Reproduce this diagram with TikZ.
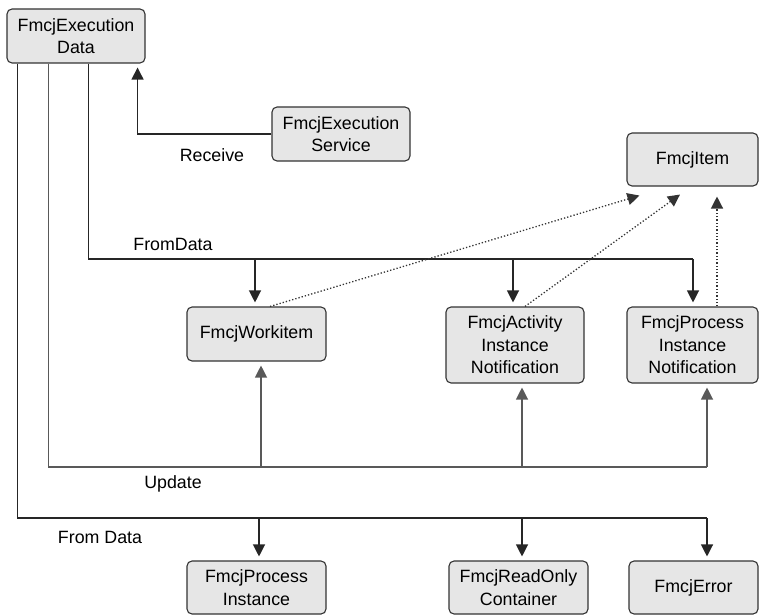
\documentclass[tikz,border=0pt]{standalone}
\usepackage{fontspec}
\setmainfont{Liberation Sans}
\usetikzlibrary{arrows.meta,calc}
\definecolor{boxfill}{HTML}{E6E6E6}
\definecolor{boxline}{HTML}{333333}
\begin{document}
\begin{tikzpicture}[x=1pt,y=-1pt,
  box/.style={draw=boxline,line width=1.1pt,fill=boxfill,rounded corners=5pt,
    inner sep=0pt,align=center,font=\fontsize{17.8}{22.5}\selectfont},
  lbl/.style={inner sep=0pt,font=\fontsize{17.8}{22.5}\selectfont},
  wire/.style={line width=1.2pt,draw=black!85},
  gwire/.style={line width=1.2pt,draw=black!65},
  arr/.style={-{Triangle[length=12pt,width=12pt]},shorten >=4pt},
  dots/.style={line width=1.3pt,dotted,draw=black!80}]
\useasboundingbox (0,0) rectangle (760,615);
% boxes
\node[box,minimum width=138pt,minimum height=54pt] (ED) at (76,36) {FmcjExecution\\Data};
\node[box,minimum width=138pt,minimum height=54pt] (ES) at (341,134) {FmcjExecution\\Service};
\node[box,minimum width=131pt,minimum height=53pt] (IT) at (692.5,159.5) {FmcjItem};
\node[box,minimum width=139pt,minimum height=54pt] (WI) at (256.5,334) {FmcjWorkitem};
\node[box,minimum width=138pt,minimum height=76pt] (AIN) at (515,345) {FmcjActivity\\Instance\\Notification};
\node[box,minimum width=131pt,minimum height=76pt] (PIN) at (692.5,345) {FmcjProcess\\Instance\\Notification};
\node[box,minimum width=139pt,minimum height=53pt] (PI) at (256.5,587.5) {FmcjProcess\\Instance};
\node[box,minimum width=139pt,minimum height=53pt] (ROC) at (518.5,587.5) {FmcjReadOnly\\Container};
\node[box,minimum width=129pt,minimum height=53pt] (ERR) at (693.5,587.5) {FmcjError};
% bus levels
\coordinate (busA) at (0,259);
\coordinate (busB) at (0,467);
\coordinate (busC) at (0,518);
% connector end points on the boxes
\coordinate (edA) at ($(ED.south west)+(82,0)$);
\coordinate (edB) at ($(ED.south west)+(42,0)$);
\coordinate (edC) at ($(ED.south west)+(11,0)$);
\coordinate (edR) at ($(ED.south east)+(-8,0)$);
\coordinate (wiT) at ($(WI.north)+(-1.5,0)$);
\coordinate (ainT) at ($(AIN.north)+(-2,0)$);
\coordinate (pinT) at ($(PIN.north)+(0.5,0)$);
\coordinate (wiB) at ($(WI.south)+(4.5,0)$);
\coordinate (ainB) at ($(AIN.south)+(7,0)$);
\coordinate (pinB) at ($(PIN.south)+(14.5,0)$);
\coordinate (piT) at ($(PI.north)+(2.5,0)$);
\coordinate (rocT) at ($(ROC.north)+(3.5,0)$);
\coordinate (errT) at ($(ERR.north)+(13.5,0)$);
% labels
\node[lbl] (lrec) at (212,155) {Receive};
\node[lbl] (lfd) at (173,244) {FromData};
\node[lbl] (lup) at (173,484) {Update};
\node[lbl] (lfd2) at (100,537) {From Data};
% Receive
\draw[wire,arr] (ES.west) -| (edR);
% FromData bus
\draw[wire] (edA) |- (pinT |- busA);
\draw[wire,arr] (wiT |- busA) -- (wiT);
\draw[wire,arr] (ainT |- busA) -- (ainT);
\draw[wire,arr] (pinT |- busA) -- (pinT);
% Update bus
\draw[gwire] (edB) |- (pinB |- busB);
\draw[gwire,arr] (wiB |- busB) -- (wiB);
\draw[gwire,arr] (ainB |- busB) -- (ainB);
\draw[gwire,arr] (pinB |- busB) -- (pinB);
% From Data bus
\draw[wire] (edC) |- (errT |- busC);
\draw[wire,arr] (piT |- busC) -- (piT);
\draw[wire,arr] (rocT |- busC) -- (rocT);
\draw[wire,arr] (errT |- busC) -- (errT);
% dotted to FmcjItem
\draw[dots,-{Triangle[length=12pt,width=12pt]}] ($(WI.north)+(13.5,0)$) -- ($(IT.south west)+(13,9)$);
\draw[dots,-{Triangle[length=12pt,width=12pt]}] ($(AIN.north)+(10,0)$) -- ($(IT.south)+(-12.5,8)$);
\draw[dots,-{Triangle[length=12pt,width=12pt]}] ($(PIN.north)+(24.5,0)$) -- ($(IT.south)+(24.5,10)$);
\end{tikzpicture}
\end{document}
